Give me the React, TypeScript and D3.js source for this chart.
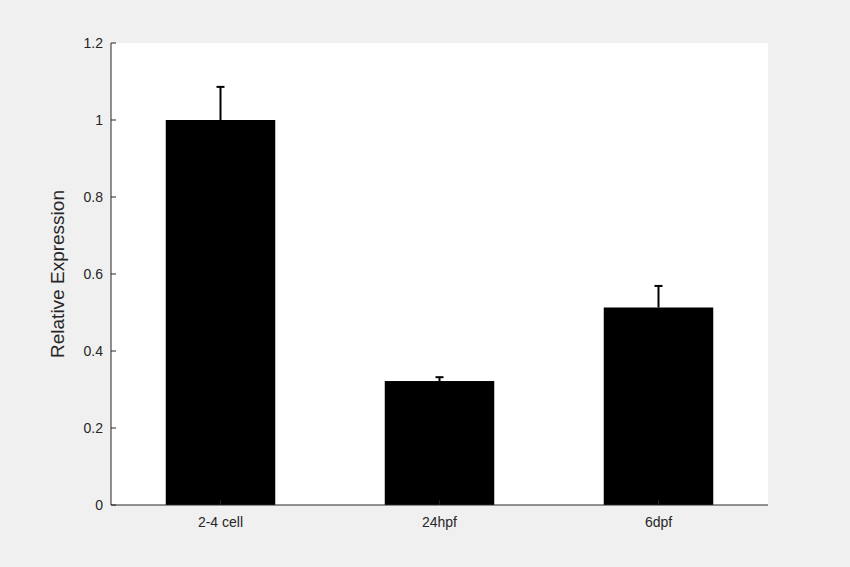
import { useEffect, useRef } from 'react';
import * as d3 from 'd3';

const categories = ['2-4 cell', '24hpf', '6dpf'];
const values = [1.0, 0.322, 0.513];
const errors = [0.086, 0.01, 0.056];
const yTicks = [0, 0.2, 0.4, 0.6, 0.8, 1, 1.2];

export default function App() {
    const svgRef = useRef<SVGSVGElement>(null);

    useEffect(() => {
        if (!svgRef.current) return;
        const svg = d3.select(svgRef.current);
        svg.selectAll('*').remove();

        const width = 850, height = 567;
        const left = 111, right = 768, top = 43, bottom = 505;
        const font = '"Liberation Sans", Arial, sans-serif';

        svg.append('rect').attr('width', width).attr('height', height).attr('fill', '#f0f0f0');
        svg.append('rect').attr('x', left).attr('y', top)
            .attr('width', right - left).attr('height', bottom - top).attr('fill', '#fff');

        const x = d3.scaleLinear().domain([0.5, 3.5]).range([left, right]);
        const y = d3.scaleLinear().domain([0, 1.2]).range([bottom, top]);
        const barW = x(1.25) - x(0.75);

        // bars
        svg.selectAll('rect.bar').data(values).enter().append('rect')
            .attr('x', (_, i) => x(i + 1) - barW / 2)
            .attr('y', d => y(d))
            .attr('width', barW)
            .attr('height', d => bottom - y(d))
            .attr('fill', '#000');

        // error bars (upper only)
        values.forEach((v, i) => {
            const cx = x(i + 1);
            svg.append('line').attr('x1', cx).attr('x2', cx)
                .attr('y1', y(v)).attr('y2', y(v + errors[i]))
                .attr('stroke', '#000').attr('stroke-width', 2);
            svg.append('line').attr('x1', cx - 4).attr('x2', cx + 4)
                .attr('y1', y(v + errors[i])).attr('y2', y(v + errors[i]))
                .attr('stroke', '#000').attr('stroke-width', 2);
        });

        // axes lines
        const axisColor = '#262626';
        svg.append('line').attr('x1', left).attr('x2', left).attr('y1', top).attr('y2', bottom)
            .attr('stroke', axisColor);
        svg.append('line').attr('x1', left).attr('x2', right).attr('y1', bottom).attr('y2', bottom)
            .attr('stroke', axisColor);

        // y ticks
        yTicks.forEach(t => {
            svg.append('line').attr('x1', left).attr('x2', left + 5)
                .attr('y1', y(t)).attr('y2', y(t)).attr('stroke', axisColor);
            svg.append('text').attr('x', left - 8).attr('y', y(t)).attr('dy', '0.35em')
                .attr('text-anchor', 'end').style('font-family', font).style('font-size', '14px')
                .style('fill', axisColor).text(String(t));
        });

        // x ticks
        categories.forEach((c, i) => {
            svg.append('line').attr('x1', x(i + 1)).attr('x2', x(i + 1))
                .attr('y1', bottom).attr('y2', bottom - 5).attr('stroke', axisColor);
            svg.append('text').attr('x', x(i + 1)).attr('y', bottom + 22)
                .attr('text-anchor', 'middle').style('font-family', font).style('font-size', '14px')
                .style('fill', axisColor).text(c);
        });

        svg.append('text')
            .attr('transform', `translate(64, ${(top + bottom) / 2}) rotate(-90)`)
            .attr('text-anchor', 'middle').style('font-family', font).style('font-size', '19px')
            .style('fill', axisColor).text('Relative Expression');
    }, []);

    return <svg ref={svgRef} width={850} height={567} style={{ position: 'absolute', left: 0, top: 0 }} />;
}
